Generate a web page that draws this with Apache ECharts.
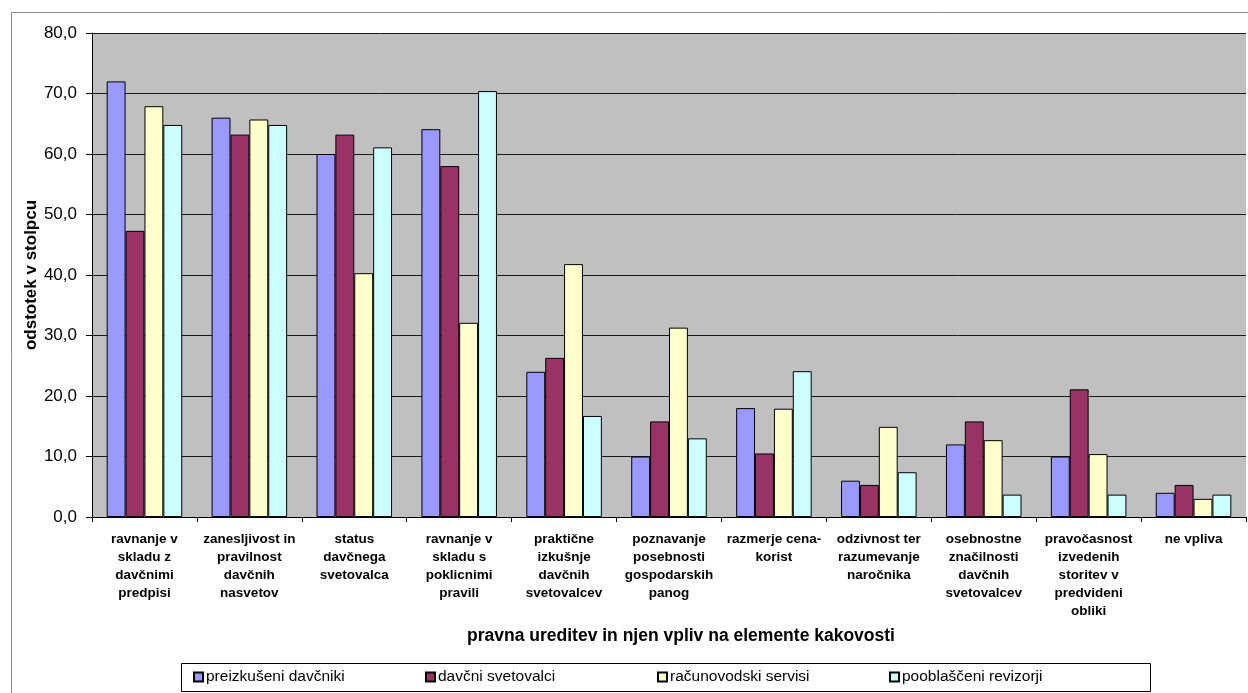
<!DOCTYPE html>
<html>
<head>
<meta charset="utf-8">
<title>pravna ureditev in njen vpliv na elemente kakovosti</title>
<script src="https://cdn.jsdelivr.net/npm/echarts@6/dist/echarts.min.js"></script>
<style>
  html, body { margin: 0; padding: 0; background: #ffffff; }
  #chart { width: 1248px; height: 693px; }
</style>
</head>
<body>
<div id="chart"></div>
<script>
// Categories (line breaks follow the wrapped axis labels)
const categories = [
  'ravnanje v\nskladu z\ndavčnimi\npredpisi',
  'zanesljivost in\npravilnost\ndavčnih\nnasvetov',
  'status\ndavčnega\nsvetovalca',
  'ravnanje v\nskladu s\npoklicnimi\npravili',
  'praktične\nizkušnje\ndavčnih\nsvetovalcev',
  'poznavanje\nposebnosti\ngospodarskih\npanog',
  'razmerje cena-\nkorist',
  'odzivnost ter\nrazumevanje\nnaročnika',
  'osebnostne\nznačilnosti\ndavčnih\nsvetovalcev',
  'pravočasnost\nizvedenih\nstoritev v\npredvideni\nobliki',
  'ne vpliva'
];

const seriesNames = [
  'preizkušeni davčniki',
  'davčni svetovalci',
  'računovodski servisi',
  'pooblaščeni revizorji'
];

// Percentage per category for each group of respondents
const preizkuseniDavcniki = [72.0, 66.0, 60.0, 64.1, 24.0, 10.0, 18.0, 6.0, 12.0, 10.0, 4.0];
const davcniSvetovalci    = [47.3, 63.2, 63.2, 58.0, 26.3, 15.8, 10.5, 5.3, 15.8, 21.1, 5.3];
const racunovodskiServisi = [67.9, 65.7, 40.3, 32.1, 41.8, 31.3, 17.9, 14.9, 12.7, 10.4, 3.0];
const pooblasceniRevizorji = [64.8, 64.8, 61.1, 70.4, 16.7, 13.0, 24.1, 7.4, 3.7, 3.7, 3.7];

const yTicks = { min: 0, max: 80, interval: 10 };

const seriesData = [preizkuseniDavcniki, davcniSvetovalci, racunovodskiServisi, pooblasceniRevizorji];
const seriesColors = ['#9999FF', '#993366', '#FFFFCC', '#CCFFFF'];

const FONT = '"Liberation Sans", Arial, sans-serif';

// Legend box and the evenly spaced slots of its entries
const LEGEND_BOX = { x: 181, y: 663, w: 969, h: 28 };
const LEGEND_FIRST = 193, LEGEND_STEP = 232;

const chart = echarts.init(document.getElementById('chart'), null, { renderer: 'canvas' });

chart.setOption({
  animation: false,
  backgroundColor: '#ffffff',
  textStyle: { fontFamily: FONT },
  graphic: [
    {
      type: 'rect',
      left: 9, top: 10,
      shape: { width: 1260, height: 700 },
      style: { fill: 'none', stroke: '#8c8c8c', lineWidth: 1 },
      z: -1
    },
    {
      type: 'rect',
      shape: { x: LEGEND_BOX.x + 0.5, y: LEGEND_BOX.y + 0.5, width: LEGEND_BOX.w, height: LEGEND_BOX.h },
      style: { fill: '#ffffff', stroke: '#000000', lineWidth: 1 },
      z: 0
    }
  ],
  grid: {
    left: 92, top: 33, right: 2, bottom: 176,
    show: true,
    backgroundColor: '#C0C0C0',
    borderWidth: 0
  },
  // one legend entry per slot so that they sit at equal spacing
  legend: seriesNames.map((name, i) => ({
    data: [name],
    left: LEGEND_FIRST + i * LEGEND_STEP,
    top: LEGEND_BOX.y + 6,
    padding: 0,
    itemWidth: 9, itemHeight: 9,
    itemGap: 4,
    icon: 'rect',
    z: 5,
    textStyle: { fontFamily: FONT, fontSize: 15.5, color: '#000', padding: [0, 0, 0, -2] }
  })),
  xAxis: {
    type: 'category',
    data: categories,
    name: 'pravna ureditev in njen vpliv na elemente kakovosti',
    nameLocation: 'middle',
    nameGap: 110,
    nameTextStyle: { fontFamily: FONT, fontWeight: 'bold', fontSize: 17.5, color: '#000', padding: [0, 0, 0, 24] },
    axisLine: { show: true, lineStyle: { color: '#000', width: 1 } },
    axisTick: { show: true, alignWithLabel: false, length: 5, lineStyle: { color: '#000' } },
    axisLabel: {
      interval: 0,
      fontFamily: FONT, fontWeight: 'bold', fontSize: 13.5, color: '#000',
      lineHeight: 18, margin: 13
    },
    splitLine: { show: false }
  },
  yAxis: {
    type: 'value',
    min: yTicks.min, max: yTicks.max, interval: yTicks.interval,
    name: 'odstotek v stolpcu',
    nameLocation: 'middle',
    nameGap: 52,
    nameMoveOverlap: false,
    nameTextStyle: { fontFamily: FONT, fontWeight: 'bold', fontSize: 17, color: '#000' },
    axisLine: { show: true, lineStyle: { color: '#000', width: 1 } },
    axisTick: { show: true, length: 6, lineStyle: { color: '#000' } },
    axisLabel: {
      fontFamily: FONT, fontSize: 17, color: '#000', margin: 15,
      formatter: v => v.toFixed(1).replace('.', ',')
    },
    splitLine: { show: true, lineStyle: { color: '#1a1a1a', width: 1 } }
  },
  series: seriesNames.map((name, i) => ({
    name,
    type: 'bar',
    data: seriesData[i],
    barGap: '0%',
    barCategoryGap: '28%',
    itemStyle: { color: seriesColors[i], borderColor: '#000', borderWidth: 1 }
  }))
});
</script>
</body>
</html>
